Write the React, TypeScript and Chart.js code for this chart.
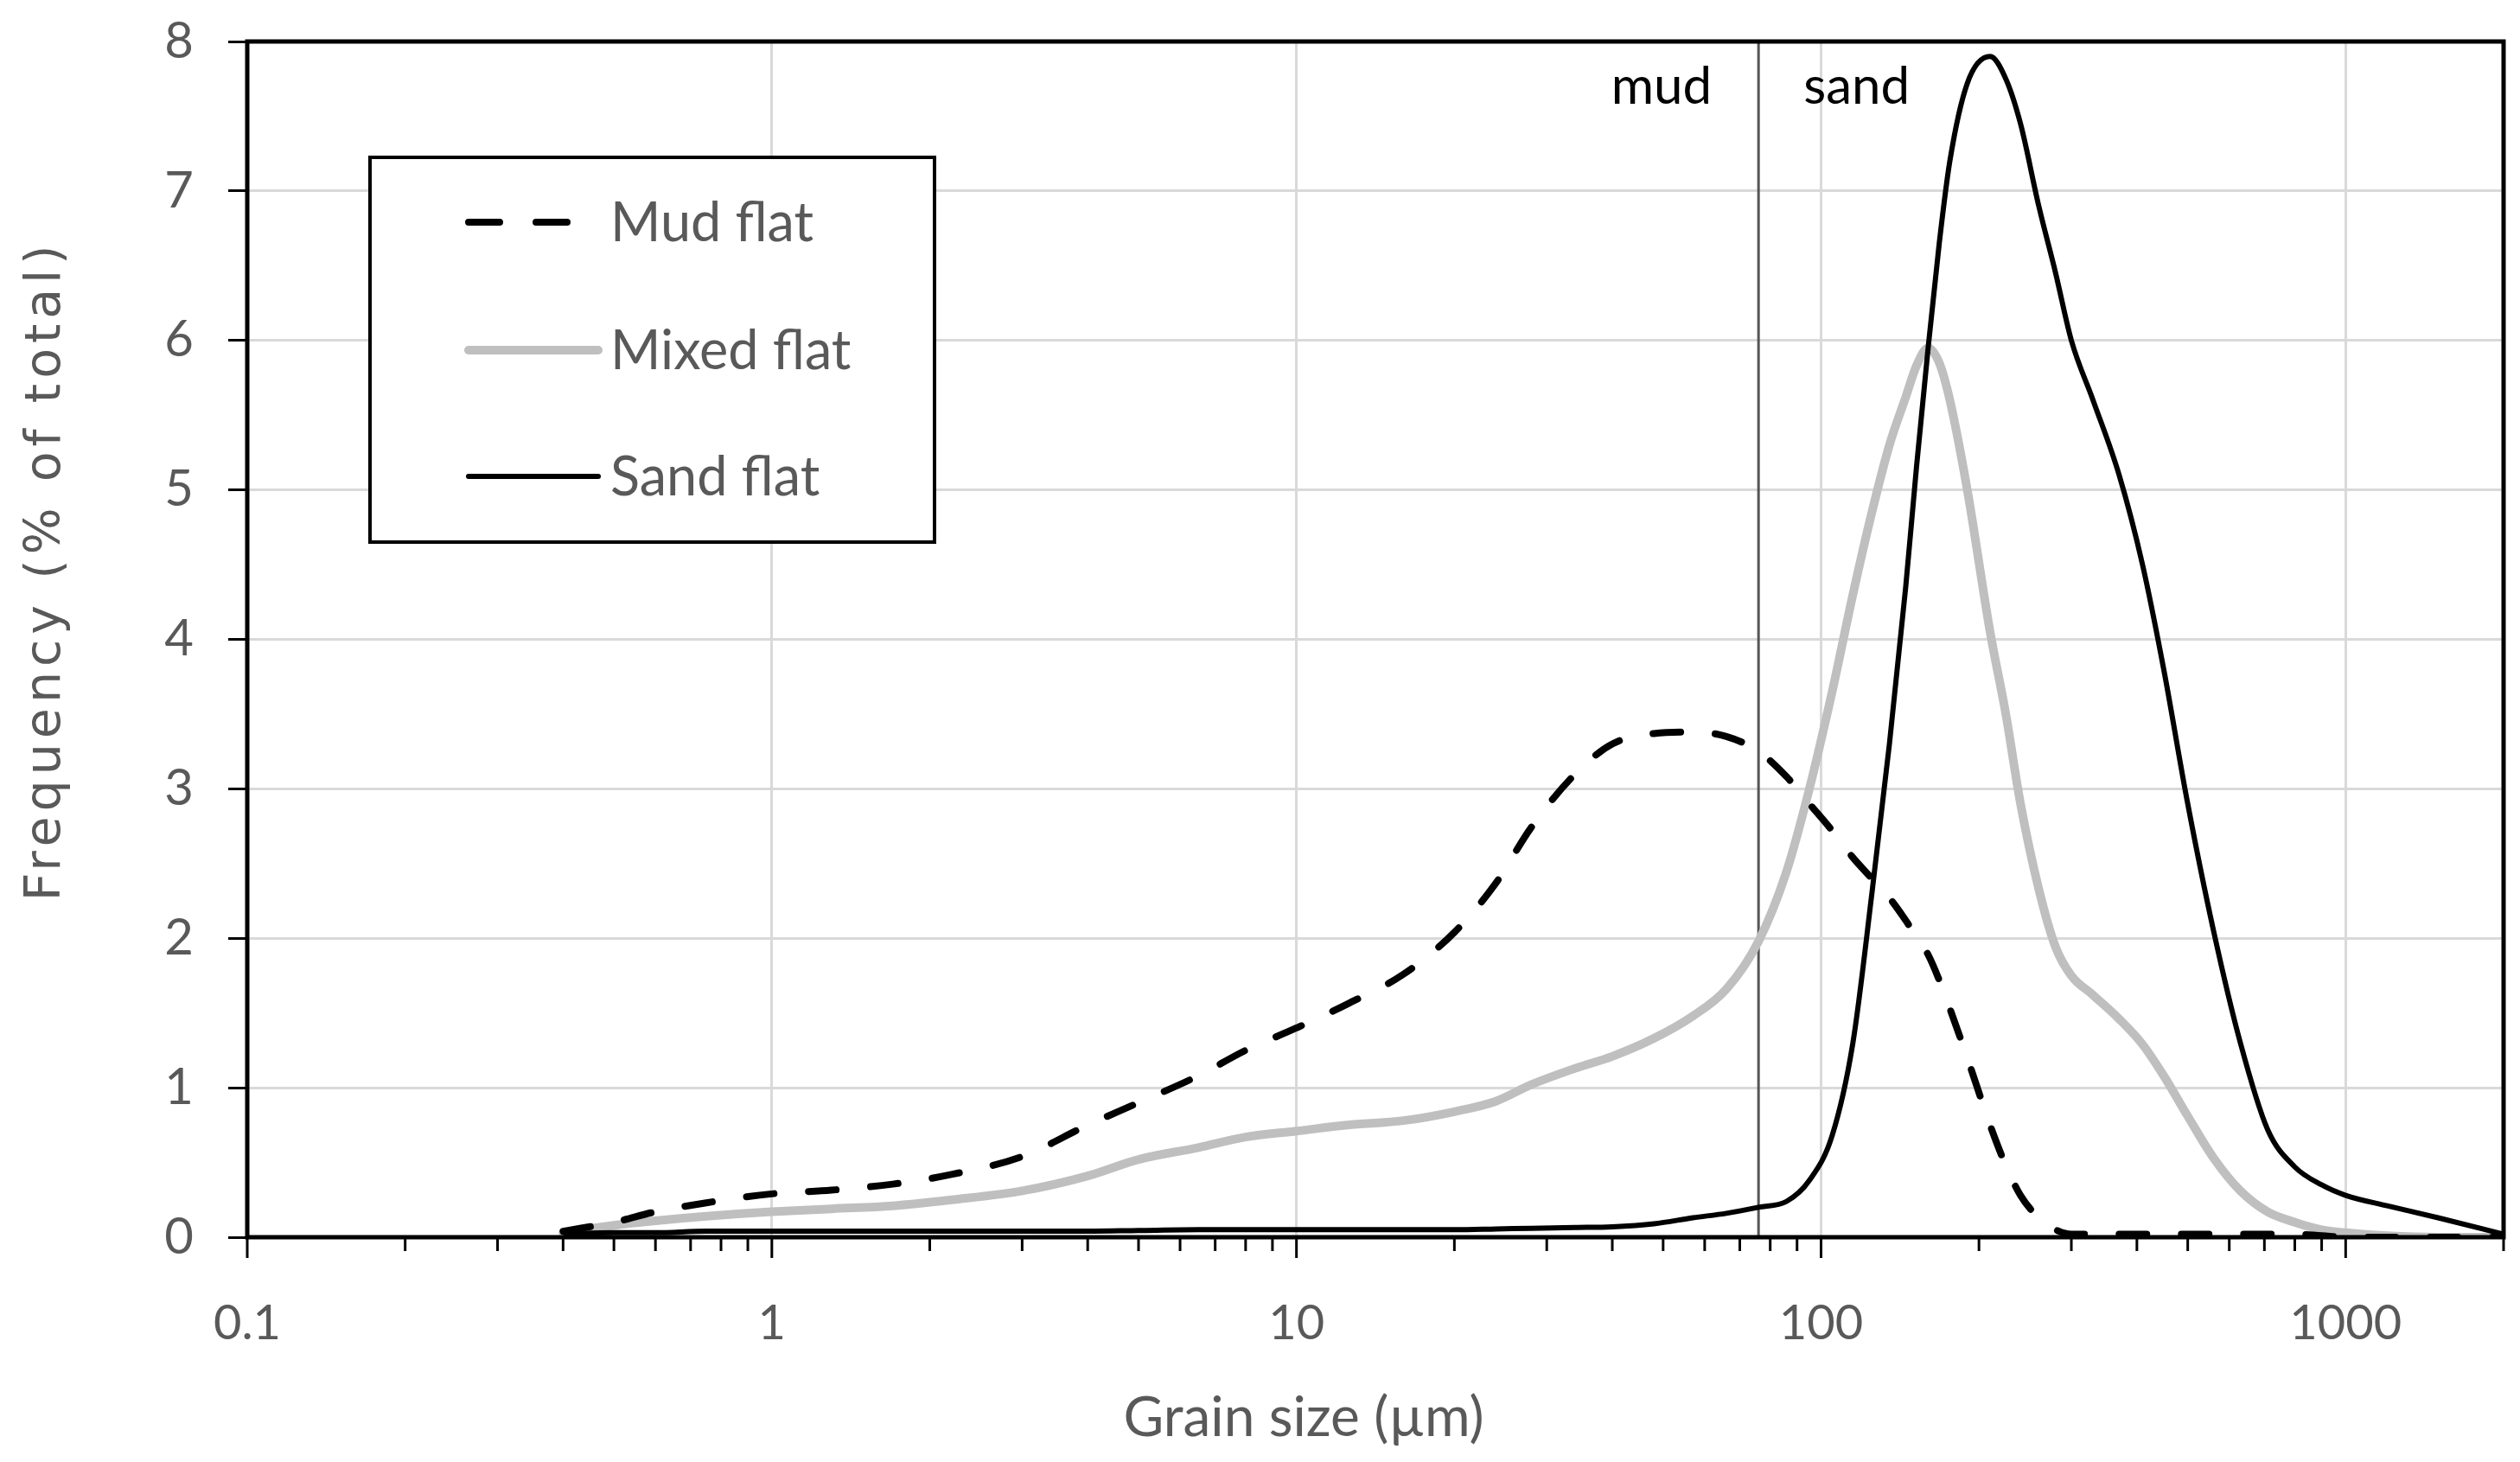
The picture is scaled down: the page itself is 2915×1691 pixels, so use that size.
import React, { useEffect, useRef } from 'react';
import { Chart, registerables, Plugin } from 'chart.js';

Chart.register(...registerables);

const WIDTH = 2915;
const HEIGHT = 1691;
const FONT = 'Lato, "Open Sans", sans-serif';
const TEXT_GREY = '#595959';

// grain size bins (µm)
const grainSizes = [
  0.4, 0.5, 0.6, 0.75, 1, 1.3, 1.7, 2.2, 3, 4,
  5, 6.5, 8, 10, 12.5, 16, 20, 24, 28, 34,
  40, 48, 57, 66, 76, 86, 95, 105, 115, 125,
  135, 145, 152, 160, 168, 176, 190, 210, 225, 240,
  260, 280, 300, 330, 370, 410, 450, 500, 560, 630,
  710, 800, 900, 1000, 1200, 1500, 2000,
];

// frequency (% of total)
const mudFlat = [
  0.04, 0.10, 0.17, 0.23, 0.29, 0.315, 0.355, 0.42, 0.54, 0.75,
  0.90, 1.08, 1.25, 1.40, 1.56, 1.76, 2.04, 2.37, 2.74, 3.10,
  3.30, 3.37, 3.38, 3.35, 3.25, 3.08, 2.90, 2.72, 2.54, 2.40,
  2.27, 2.12, 2.01, 1.89, 1.72, 1.53, 1.20, 0.75, 0.48, 0.28,
  0.13, 0.05, 0.02, 0.02, 0.02, 0.02, 0.02, 0.02, 0.02, 0.02,
  0.02, 0.02, 0.01, 0, 0, 0, 0,
];

const mixedFlat = [
  0.03, 0.08, 0.11, 0.14, 0.17, 0.19, 0.21, 0.25, 0.31, 0.41,
  0.52, 0.60, 0.67, 0.71, 0.75, 0.78, 0.84, 0.91, 1.02, 1.13,
  1.21, 1.33, 1.48, 1.66, 1.98, 2.45, 3.0, 3.65, 4.3, 4.85,
  5.3, 5.62, 5.83, 5.95, 5.85, 5.6, 5.0, 4.05, 3.5, 2.9,
  2.33, 1.94, 1.75, 1.62, 1.46, 1.29, 1.08, 0.81, 0.53, 0.31,
  0.17, 0.10, 0.05, 0.03, 0.01, 0, 0,
];

const sandFlat = [
  0.02, 0.03, 0.03, 0.04, 0.04, 0.04, 0.04, 0.04, 0.04, 0.04,
  0.045, 0.05, 0.05, 0.05, 0.05, 0.05, 0.05, 0.055, 0.06, 0.065,
  0.07, 0.09, 0.13, 0.16, 0.2, 0.24, 0.38, 0.68, 1.3, 2.3,
  3.3, 4.35, 5.15, 5.95, 6.65, 7.2, 7.72, 7.9, 7.75, 7.45,
  6.9, 6.45, 6.0, 5.6, 5.1, 4.5, 3.8, 2.9, 2.05, 1.3,
  0.72, 0.47, 0.35, 0.28, 0.21, 0.13, 0.02,
];

const xDecades = [0.1, 1, 10, 100, 1000];
const xMinorSteps = [2, 3, 4, 5, 6, 7, 8, 9];
const X_MIN = 0.1;
const X_MAX = 2000;
const Y_MIN = 0;
const Y_MAX = 8;

const mudSandBoundary = 76; // µm
const legendLabels = ['Mud flat', 'Mixed flat', 'Sand flat'];

const toPoints = (vals: number[]) => grainSizes.map((x, i) => ({ x, y: vals[i] }));

const minorTicks: number[] = [];
xDecades.forEach((d) => {
  xMinorSteps.forEach((m) => {
    const v = d * m;
    if (v <= X_MAX) minorTicks.push(v);
  });
});
const allXTicks = [...xDecades, ...minorTicks].sort((a, b) => a - b);
const isMajor = (v: number) => xDecades.some((d) => Math.abs(d - v) < d * 1e-6);

const decorPlugin: Plugin = {
  id: 'decor',
  beforeDatasetsDraw(chart) {
    const { ctx, chartArea, scales } = chart;
    const bx = scales.x.getPixelForValue(mudSandBoundary);
    ctx.save();
    ctx.strokeStyle = '#555555';
    ctx.lineWidth = 3;
    ctx.beginPath();
    ctx.moveTo(bx, chartArea.top);
    ctx.lineTo(bx, chartArea.bottom);
    ctx.stroke();
    ctx.restore();
  },
  afterDraw(chart) {
    const { ctx, chartArea, scales } = chart;
    const { left, right, top, bottom } = chartArea;
    ctx.save();

    // frame
    ctx.strokeStyle = '#000';
    ctx.lineWidth = 5;
    ctx.strokeRect(left, top, right - left, bottom - top);

    // x ticks (major longer than minor)
    ctx.lineWidth = 3;
    allXTicks.forEach((v) => {
      const px = scales.x.getPixelForValue(v);
      const len = isMajor(v) ? 24 : 16;
      ctx.beginPath();
      ctx.moveTo(px, bottom);
      ctx.lineTo(px, bottom + len);
      ctx.stroke();
    });

    // mud / sand labels
    const bx = scales.x.getPixelForValue(mudSandBoundary);
    ctx.fillStyle = '#000';
    ctx.font = `60px ${FONT}`;
    ctx.textBaseline = 'alphabetic';
    ctx.textAlign = 'right';
    ctx.fillText('mud', bx - 54, top + 72);
    ctx.textAlign = 'left';
    ctx.fillText('sand', bx + 52, top + 72);

    // axis titles
    ctx.fillStyle = TEXT_GREY;
    ctx.textAlign = 'center';
    ctx.textBaseline = 'middle';
    ctx.font = `64px ${FONT}`;
    ctx.fillText('Grain size (µm)', 1508, 1640);

    ctx.save();
    ctx.translate(54, 660);
    ctx.rotate(-Math.PI / 2);
    ctx.font = `57px "DejaVu Sans", sans-serif`;
    (ctx as any).letterSpacing = '6px';
    ctx.fillText('Frequency (% of total)', 0, 0);
    ctx.restore();

    // legend
    const lx = 428, ly = 182, lw = 653, lh = 445;
    ctx.fillStyle = '#fff';
    ctx.fillRect(lx, ly, lw, lh);
    ctx.strokeStyle = '#000';
    ctx.lineWidth = 4;
    ctx.strokeRect(lx, ly, lw, lh);

    const rows = [257, 405, 551];
    const styles = [
      { color: '#000', width: 8, dash: [36, 42], end: 658 },
      { color: '#bfbfbf', width: 10, dash: [], end: 692 },
      { color: '#000', width: 6, dash: [], end: 692 },
    ];
    rows.forEach((ry, i) => {
      const s = styles[i];
      ctx.strokeStyle = s.color;
      ctx.lineWidth = s.width;
      ctx.lineCap = 'round';
      ctx.setLineDash(s.dash);
      ctx.beginPath();
      ctx.moveTo(542, ry);
      ctx.lineTo(s.end, ry);
      ctx.stroke();
      ctx.setLineDash([]);
      ctx.fillStyle = TEXT_GREY;
      ctx.font = `63px ${FONT}`;
      ctx.textAlign = 'left';
      ctx.textBaseline = 'middle';
      ctx.fillText(legendLabels[i], 706, ry + 2);
    });

    ctx.restore();
  },
};

const GrainSizeChart: React.FC = () => {
  const canvasRef = useRef<HTMLCanvasElement>(null);
  const chartRef = useRef<Chart | null>(null);

  useEffect(() => {
    if (!canvasRef.current) return;
    if (chartRef.current) chartRef.current.destroy();

    chartRef.current = new Chart(canvasRef.current, {
      type: 'line',
      data: {
        datasets: [
          {
            label: legendLabels[2],
            data: toPoints(sandFlat),
            borderColor: '#000',
            borderWidth: 6,
            order: 0,
          },
          {
            label: legendLabels[0],
            data: toPoints(mudFlat),
            borderColor: '#000',
            borderWidth: 8,
            borderDash: [32, 40],
            borderCapStyle: 'round',
            order: 1,
          },
          {
            label: legendLabels[1],
            data: toPoints(mixedFlat),
            borderColor: '#bfbfbf',
            borderWidth: 10,
            borderCapStyle: 'round',
            order: 2,
          },
        ],
      },
      options: {
        animation: false,
        responsive: true,
        maintainAspectRatio: false,
        devicePixelRatio: 1,
        layout: { padding: { top: 48, right: 19, left: 0, bottom: 0 } },
        elements: {
          point: { radius: 0 },
          line: { cubicInterpolationMode: 'monotone', fill: false },
        },
        plugins: {
          legend: { display: false },
          tooltip: { enabled: false },
        },
        scales: {
          x: {
            type: 'logarithmic',
            min: X_MIN,
            max: X_MAX,
            afterBuildTicks: (scale: any) => {
              scale.ticks = allXTicks.map((v) => ({ value: v }));
            },
            afterFit: (scale: any) => {
              scale.height = HEIGHT - 1431;
              scale.paddingLeft = 0;
              scale.paddingRight = 0;
            },
            border: { display: false },
            grid: {
              drawTicks: false,
              lineWidth: 3,
              color: (ctx: any) => {
                const v = ctx.tick?.value;
                return v !== undefined && isMajor(v) && v !== X_MIN ? '#d9d9d9' : 'rgba(0,0,0,0)';
              },
            },
            ticks: {
              autoSkip: false,
              maxRotation: 0,
              padding: 66,
              color: TEXT_GREY,
              font: { family: FONT, size: 56 },
              callback: (value: any) => (isMajor(Number(value)) ? String(Number(value)) : ''),
            },
          },
          y: {
            min: Y_MIN,
            max: Y_MAX,
            afterFit: (scale: any) => {
              scale.width = 286;
              scale.paddingTop = 0;
              scale.paddingBottom = 0;
            },
            border: { display: false },
            grid: {
              lineWidth: 3,
              tickLength: 22,
              tickWidth: 3,
              tickColor: '#000',
              color: (ctx: any) => {
                const v = ctx.tick?.value;
                return v === Y_MIN || v === Y_MAX ? 'rgba(0,0,0,0)' : '#d9d9d9';
              },
            },
            ticks: {
              stepSize: 1,
              padding: 40,
              color: TEXT_GREY,
              font: { family: FONT, size: 58 },
            },
          },
        },
      },
      plugins: [decorPlugin],
    } as any);

    return () => {
      if (chartRef.current) {
        chartRef.current.destroy();
        chartRef.current = null;
      }
    };
  }, []);

  return (
    <div style={{ width: `${WIDTH}px`, height: `${HEIGHT}px`, position: 'relative', background: '#fff' }}>
      <canvas ref={canvasRef} />
    </div>
  );
};

export default function App() {
  useEffect(() => {
    document.body.style.margin = '0';
  }, []);
  return <GrainSizeChart />;
}
